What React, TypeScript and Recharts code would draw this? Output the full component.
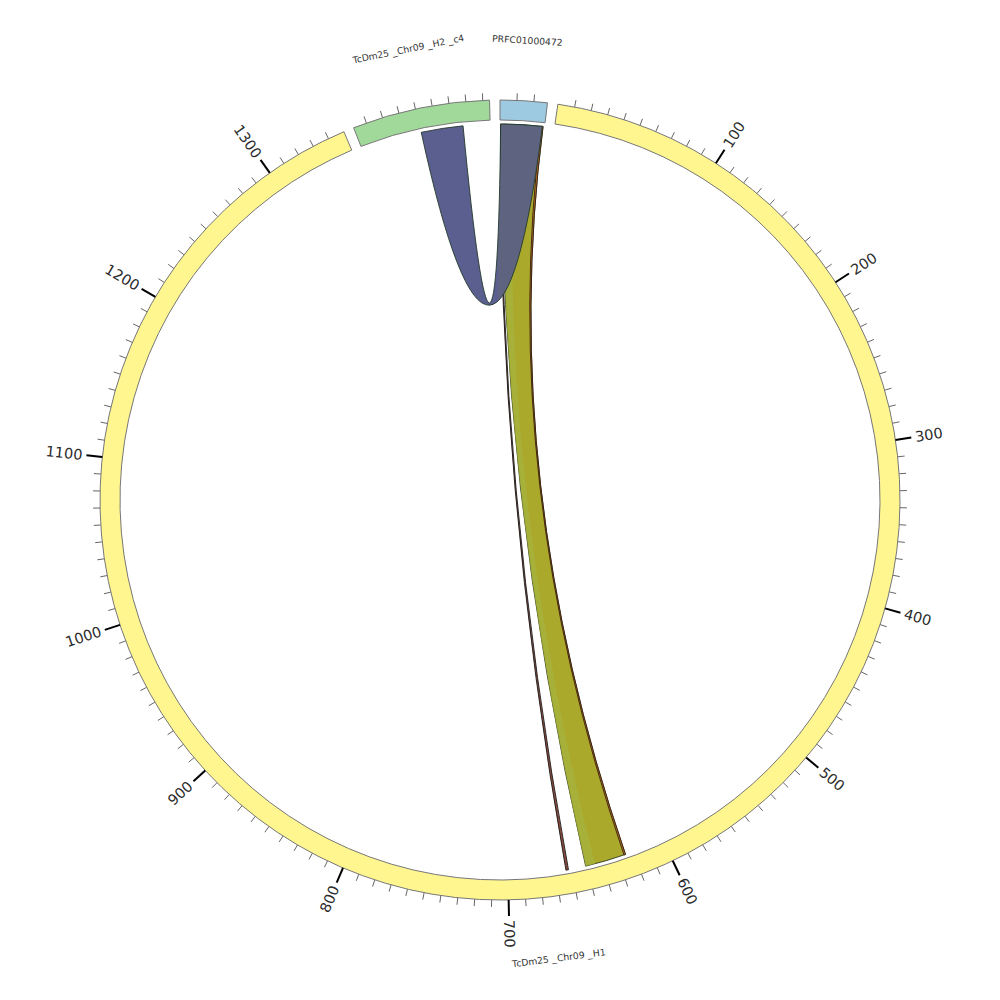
import React from 'react';
import { PieChart, Pie, Cell, Customized } from 'recharts';

// ---------- data ----------
const segmentNames = ['PRFC01000472', 'TcDm25_Chr09_H1', 'TcDm25_Chr09_H2_c4'];
const segmentStarts = [0, 0, 2];
const segmentEnds = [28, 1350, 84];
const segmentColors = ['#9ecae1', '#fff68f', '#a1d99b'];

const minorTickStep = 10;
const majorTickStep = 100;

// links (ribbons): source segment/range -> target segment/range
const linkSourceSegments = [0, 0, 0, 0, 0];
const linkSourceStarts = [1.5, 1.5, 25.8, 0.3, 0.4];
const linkSourceEnds = [27, 9, 27, 1.1, 26.6];
const linkTargetSegments = [1, 1, 1, 1, 2];
const linkTargetStarts = [625, 645, 625, 662, 40.5];
const linkTargetEnds = [651, 651, 626, 663.6, 67];
const linkColors = ['#aba92c', '#a6b43e', '#c8702a', '#8a4a3c', 'url(#purpleGrad)'];
const linkOpacities = [1, 0.75, 0.8, 1, 1];
const linkStrokes = ['#2e3a1e', 'none', '#3a2010', '#1a1a1a', '#223a2b'];

// ---------- layout ----------
const CX = 500;
const CY = 500;
const R_IN = 380;
const R_OUT = 400;
const R_LINK = 376;
const PAD = 1.5;
const START_ANGLE = 90;
const END_ANGLE = -270;
const RAD = Math.PI / 180;

const segData = segmentNames.map((name, i) => ({
  name,
  value: segmentEnds[i] - segmentStarts[i],
  start: segmentStarts[i],
  end: segmentEnds[i],
}));

const totalLen = segData.reduce((s, d) => s + d.value, 0);
const degPerUnit = (Math.abs(END_ANGLE - START_ANGLE) - PAD * segData.length) / totalLen;
const segStartAngles: number[] = [];
{
  let a = START_ANGLE;
  segData.forEach((d) => {
    segStartAngles.push(a);
    a = a - d.value * degPerUnit - PAD;
  });
}
const angleAt = (seg: number, pos: number) =>
  segStartAngles[seg] - (pos - segmentStarts[seg]) * degPerUnit;

const polar = (cx: number, cy: number, r: number, a: number): [number, number] => [
  cx + r * Math.cos(-a * RAD),
  cy + r * Math.sin(-a * RAD),
];

const renderName = (name: string) => {
  const parts = name.split('_');
  const out: React.ReactNode[] = [];
  parts.forEach((p, i) => {
    if (i > 0) out.push(<tspan key={'u' + i} dx={3.2}>_</tspan>);
    out.push(<tspan key={'p' + i} dx={i > 0 ? 0.6 : 0}>{p}</tspan>);
  });
  return out;
};

// ---------- segment decorations (ticks + names) via Pie label ----------
const renderSegmentDecor = (props: any) => {
  const { cx, cy, startAngle, endAngle, midAngle, outerRadius, payload, index } = props;
  const start = payload.start;
  const end = payload.end;
  const toAngle = (v: number) => startAngle + ((v - start) / (end - start)) * (endAngle - startAngle);
  const items: React.ReactNode[] = [];
  const first = Math.ceil(start / minorTickStep) * minorTickStep;
  for (let v = first; v < end; v += minorTickStep) {
    if (v <= start) continue;
    const a = toAngle(v);
    const major = v % majorTickStep === 0;
    const [x1, y1] = polar(cx, cy, outerRadius, a);
    const [x2, y2] = polar(cx, cy, outerRadius + (major ? 16 : 7), a);
    items.push(
      <line key={'t' + v} x1={x1} y1={y1} x2={x2} y2={y2}
        stroke={major ? '#000' : '#666'} strokeWidth={major ? 2 : 1} />
    );
    if (major) {
      let th = (90 - a) % 360;
      if (th < 0) th += 360;
      const [lx, ly] = polar(cx, cy, outerRadius + 20, a);
      const right = th < 180;
      const rot = right ? th - 90 : th - 270;
      items.push(
        <text key={'l' + v} transform={`translate(${lx},${ly}) rotate(${rot})`}
          textAnchor={right ? 'start' : 'end'} dominantBaseline="central"
          fontFamily="DejaVu Sans" fontSize={14.5} fill="#2b2b2b">{v}</text>
      );
    }
  }
  let tm = (90 - midAngle) % 360;
  if (tm < 0) tm += 360;
  const nrot = tm > 90 && tm < 270 ? tm - 180 : tm > 180 ? tm - 360 : tm;
  const [nx, ny] = polar(cx, cy, 461, midAngle);
  items.push(
    <text key="name" transform={`translate(${nx},${ny}) rotate(${nrot})`}
      textAnchor="middle" dominantBaseline="central"
      fontFamily="DejaVu Sans" fontSize={9.2} fill="#333">{renderName(segmentNames[index])}</text>
  );
  return <g>{items}</g>;
};

// ---------- chords ----------
const CTRL: [number, number] = [CX - 3, CY - 19];

function ribbonPath(s0: number, s1: number, t0: number, t1: number) {
  const p = (a: number) => polar(CX, CY, R_LINK, a);
  const arc = (from: number, to: number) => {
    const [x, y] = p(to);
    const large = Math.abs(to - from) > 180 ? 1 : 0;
    const sweep = to < from ? 1 : 0;
    return `A ${R_LINK} ${R_LINK} 0 ${large} ${sweep} ${x} ${y}`;
  };
  const [ax, ay] = p(s0);
  const [tx, ty] = p(t0);
  return [
    `M ${ax} ${ay}`,
    arc(s0, s1),
    `Q ${CTRL[0]} ${CTRL[1]} ${tx} ${ty}`,
    arc(t0, t1),
    `Q ${CTRL[0]} ${CTRL[1]} ${ax} ${ay}`,
    'Z',
  ].join(' ');
}

const ChordLayer = () => (
  <g>
    <defs>
      <linearGradient id="purpleGrad" gradientUnits="userSpaceOnUse" x1="0" y1="0" x2="1000" y2="0">
        <stop offset="0.498" stopColor="#5b5f8f" />
        <stop offset="0.498" stopColor="#5e6480" />
      </linearGradient>
    </defs>
    {linkSourceSegments.map((seg, i) => {
      const s0 = angleAt(seg, linkSourceStarts[i]);
      const s1 = angleAt(seg, linkSourceEnds[i]);
      const t0 = angleAt(linkTargetSegments[i], linkTargetStarts[i]);
      const t1 = angleAt(linkTargetSegments[i], linkTargetEnds[i]);
      return (
        <path key={i} d={ribbonPath(s0, s1, t0, t1)} fill={linkColors[i]}
          fillOpacity={linkOpacities[i]} stroke={linkStrokes[i]} strokeWidth={0.9} />
      );
    })}
  </g>
);

export default function App() {
  return (
    <div style={{ position: 'absolute', left: 0, top: 0, width: 1000, height: 1000, background: '#fff' }}>
      <PieChart width={1000} height={1000} margin={{ top: 0, right: 0, bottom: 0, left: 0 }}>
        <Pie
          data={segData}
          dataKey="value"
          nameKey="name"
          cx={CX}
          cy={CY}
          innerRadius={R_IN}
          outerRadius={R_OUT}
          startAngle={START_ANGLE}
          endAngle={END_ANGLE}
          paddingAngle={PAD}
          isAnimationActive={false}
          label={renderSegmentDecor}
          labelLine={false}
          stroke="#777"
          strokeWidth={1}
        >
          {segData.map((d, i) => (
            <Cell key={d.name} fill={segmentColors[i]} stroke="#777" strokeWidth={1} />
          ))}
        </Pie>
        <Customized component={<ChordLayer />} />
      </PieChart>
    </div>
  );
}
